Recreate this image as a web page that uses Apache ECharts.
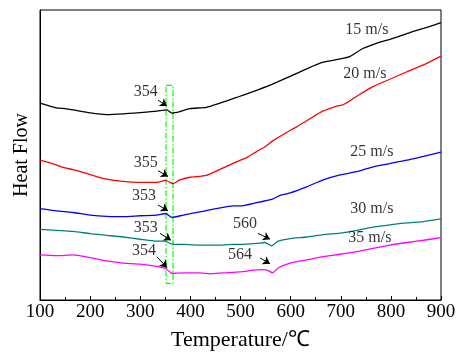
<!DOCTYPE html>
<html><head><meta charset="utf-8">
<script src="https://cdn.jsdelivr.net/npm/echarts@6/dist/echarts.min.js"></script>
<style>html,body{margin:0;padding:0;background:#fff}#c{width:460px;height:356px}</style>
</head><body><div id="c"></div>
<script>
// Temperature (°C) and Heat Flow (arbitrary units) per speed
const t15 = [100,133,150,166,200,233,266,300,333,353,363,379,399,432,459,492,525,559,592,632,665,699,719,744,778,798,838,870,900];
const h15 = [201,196,195.3,194,191,189.3,190,191.3,192.7,194,190.7,192.2,195.3,196.7,201,206.7,212.7,219.3,226.7,236,242.7,246,248.7,256.7,263.3,266,273,278,283];
const t20 = [100,120,146,166,200,233,266,300,333,350,360,365,379,399,432,459,492,512,532,549,565,592,612,632,665,692,705,732,765,798,832,865,900];
const h20 = [142.7,140,135.3,133,128,123.3,121,120,120,122,120,118.7,122.7,125.3,127.3,133.3,141,145.3,151.5,156.5,162.7,171,176.7,183,193,198,199.3,208,218,225.3,233,240,249];
const t25 = [100,133,166,200,233,266,300,333,351,363,386,419,452,486,499,532,565,579,599,632,665,699,732,765,798,832,865,900];
const h25 = [93.3,91,89.3,86.7,85.3,85,86,86.7,88.3,84.3,86.7,90,93.3,96,96,99.3,103.3,106.7,109.3,115.5,122.7,127.7,131,136,139.3,142.7,146.7,151];
const t30 = [100,133,166,200,233,266,300,333,349,363,386,419,452,486,499,532,549,562,575,599,632,665,699,732,765,798,832,865,900];
const h30 = [72,71,70,67.7,66,64.3,62,60,60,57,56.7,56,56,56.7,56.7,57.7,58.7,55.3,60,62.7,64.3,66.7,68.3,71,74.3,76.7,78.7,80,82.7];
const t35 = [100,133,166,200,233,266,300,333,351,363,386,419,439,466,499,532,549,555,564,575,599,632,665,699,732,765,798,832,865,900];
const h35 = [46,45.3,46,43.3,40,37.7,36.7,34.3,32,27.3,27.7,27.7,26.7,27.7,28.7,30.7,31,30,27.7,32.7,37.7,41,44.3,46.7,49.3,52.7,56,58.7,61,63.7];

const seriesNames = ['15 m/s','20 m/s','25 m/s','30 m/s','35 m/s'];
const seriesColors = ['#000000','#ff0000','#0000ff','#008080','#ff00ff'];
// label anchor (T, heat flow)
const nameT = [752,748,762,762,758];
const nameH = [276,231,151,93,63];

// peak annotations
const peakText = ['354','355','353','353','354','560','564'];
const peakTextT = [311,311,307.5,311,307.5,509,499];
const peakTextH = [213,140,106,74,50,78,46];
const arrowT0 = [335.4,335.4,335.4,339.4,333.4,534.9,538.9];
const arrowH0 = [204,132,97,68,44,68,43];
const arrowT1 = [353.4,355.4,355.4,361.3,353.4,558.8,558.8];
const arrowH1 = [198,126,91,61,33,62,37];

// highlight box around ~355 °C
const boxT = [351.4,365.3];
const boxH = [17,219];

const xTicks = [100,200,300,400,500,600,700,800,900];

const zip = (a,b)=>a.map((v,i)=>[v,b[i]]);
const tList=[t15,t20,t25,t30,t35], hList=[h15,h20,h25,h30,h35];
const font = 'Liberation Serif';

const series = tList.map((t,i)=>({
  type:'line', name:seriesNames[i], data:zip(t,hList[i]), showSymbol:false, symbol:'none',
  lineStyle:{color:seriesColors[i], width:1.3}, smooth:0.2, z:3
}));
series.push({
  type:'line', data:[[boxT[0],boxH[1]],[boxT[1],boxH[1]],[boxT[1],boxH[0]],[boxT[0],boxH[0]],[boxT[0],boxH[1]]],
  showSymbol:false, symbol:'none', lineStyle:{color:'#00ff00', width:1.2, type:[6,2,1.5,2]}, z:2
});
series.push({
  type:'scatter', symbolSize:0, z:5,
  data: seriesNames.map((n,i)=>[nameT[i],nameH[i],n]).concat(peakText.map((n,i)=>[peakTextT[i],peakTextH[i],n])),
  label:{show:true, position:'inside', formatter:p=>p.data[2], color:'#000', fontFamily:font, fontSize:16}
});
series.push({
  type:'line', data:[], z:6,
  markLine:{
    silent:true, symbol:['none','arrow'], symbolSize:7, label:{show:false},
    lineStyle:{color:'#000', width:1, type:'solid'},
    itemStyle:{color:'#000'},
    data: arrowT0.map((v,i)=>[{coord:[v,arrowH0[i]]},{coord:[arrowT1[i],arrowH1[i]]}])
  }
});

const chart = echarts.init(document.getElementById('c'), null, {renderer:'canvas'});
chart.setOption({
  animation:false,
  backgroundColor:'#fff',
  grid:{left:40, top:10, right:19, bottom:50, show:true, borderColor:'#000', borderWidth:1},
  xAxis:{type:'value', min:xTicks[0], max:xTicks[xTicks.length-1], interval:100,
    name:'Temperature/℃', nameLocation:'middle', nameGap:29,
    nameTextStyle:{fontFamily:font, fontSize:22, color:'#000'},
    axisLine:{show:true, lineStyle:{color:'#000', width:1}},
    axisTick:{show:true, inside:true, length:4, lineStyle:{color:'#000'}},
    minorTick:{show:true, splitNumber:2, length:3, lineStyle:{color:'#000'}},
    splitLine:{show:false},
    axisLabel:{fontFamily:font, fontSize:19, color:'#000', margin:3}
  },
  yAxis:{type:'value', min:0, max:296,
    name:'Heat Flow', nameLocation:'middle', nameGap:8, nameRotate:90,
    nameTextStyle:{fontFamily:font, fontSize:20, color:'#000'},
    axisLine:{show:true, lineStyle:{color:'#000', width:1}},
    axisTick:{show:false}, axisLabel:{show:false}, splitLine:{show:false}
  },
  series:series
});
</script></body></html>
